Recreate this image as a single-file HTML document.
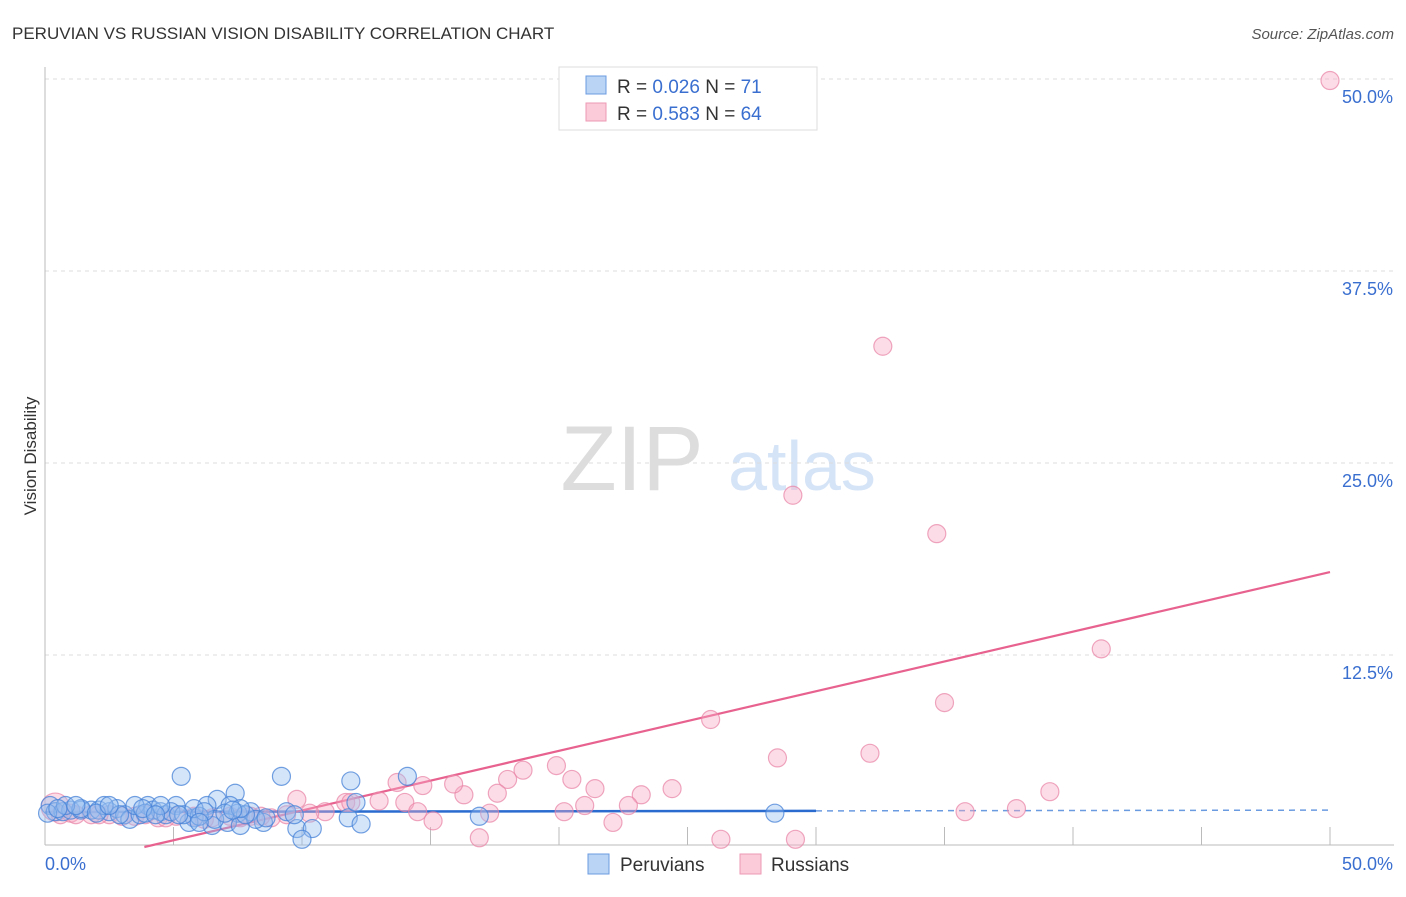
<!DOCTYPE html>
<html><head><meta charset="utf-8"><style>
body{margin:0;background:#fff;font-family:"Liberation Sans",sans-serif;}
svg text{font-family:"Liberation Sans",sans-serif;}
</style></head><body>
<svg width="1406" height="892" viewBox="0 0 1406 892" xmlns="http://www.w3.org/2000/svg">
<text x="12" y="39" font-size="17" fill="#333">PERUVIAN VS RUSSIAN VISION DISABILITY CORRELATION CHART</text>
<text x="1394" y="39" font-size="15" fill="#555" text-anchor="end" font-style="italic">Source: ZipAtlas.com</text>
<text x="36" y="456" font-size="17" fill="#333" transform="rotate(-90 36 456)" text-anchor="middle">Vision Disability</text>
<g><text x="632" y="490" font-size="92" fill="#ddd" font-family="Liberation Serif" text-anchor="middle">ZIP</text><text x="802" y="490" font-size="70" fill="#d6e4f7" text-anchor="middle">atlas</text></g>
<g id="grid"></g><g id="axes"></g><g id="lines"></g><g id="pts"></g>
<g>
<rect x="559" y="67" width="258" height="63" fill="#fff" stroke="#ddd"/>
<rect x="586" y="76" width="20" height="18" fill="#b9d4f5" stroke="#6a9be0"/>
<rect x="586" y="103" width="20" height="18" fill="#fbcbd9" stroke="#ee9ab4"/>
<text x="617" y="93" font-size="19" fill="#333">R = <tspan fill="#3a6fd0">0.026</tspan>   N =  <tspan fill="#3a6fd0"> 71</tspan></text>
<text x="617" y="120" font-size="19" fill="#333">R = <tspan fill="#3a6fd0">0.583</tspan>   N = <tspan fill="#3a6fd0">64</tspan></text>
</g>
<g>
<rect x="588" y="854" width="21" height="20" fill="#b9d4f5" stroke="#6a9be0"/>
<text x="620" y="871" font-size="19" fill="#333">Peruvians</text>
<rect x="740" y="854" width="21" height="20" fill="#fbcbd9" stroke="#ee9ab4"/>
<text x="771" y="871" font-size="19" fill="#333">Russians</text>
</g>
</svg>
<script>
const yTicks=[12.5,25,37.5,50];
const yTickLabels=["12.5%","25.0%","37.5%","50.0%"];
const xTickVals=[0,5,10,15,20,25,30,35,40,45,50];
const russX=[50,32.6,29.1,34.7,41.1,35,25.9,28.5,32.1,19.9,18.6,20.5,21.4,16.3,13.7,14.7,15.9,18,17.6,23.2,24.4,39.1,37.8,35.8,21,22.7,20.2,22.1,14,14.5,15.1,17.3,16.9,26.3,29.2,9.8,11.7,13,11.9,10.9,10.3,9.4,8.8,8,7.2,6.5,5.8,5.1,4.4,3.5,2.5,1.8,1,0.4,0.6,1.2,2.1,3,3.9,4.7,6.2,7.6,8.4];
const russY=[49.9,32.6,22.9,20.4,12.9,9.4,8.3,5.8,6.1,5.3,5,4.4,3.8,3.4,4.2,4,4.1,4.4,3.5,3.4,3.8,3.6,2.5,2.3,2.7,2.7,2.3,1.6,2.9,2.3,1.7,2.2,0.6,0.5,0.5,3.1,2.9,3,2.9,2.3,2.2,2.1,1.9,2,2,1.9,2,2,1.9,2,2.1,2.1,2.2,2.6,2.1,2.1,2.1,2,2.1,1.9,1.8,1.9,2];
const peruX=[5.3,9.2,11.9,14.1,7.4,6.7,6.3,7.2,8,7.5,7.1,7.6,6.5,6.6,5.8,5.6,8.5,9.8,10.4,10,9.4,9.7,11.8,12.3,12.1,16.9,28.4,0.2,0.4,0.7,1,1.4,1.8,2.1,2.5,2.8,3.1,3.3,3.7,4,4.2,4.5,4.7,5.1,4.9,5.4,6,4.5,3.5,2.3,1.4,0.8,0.1,0.5,2.9,3.9,5.8,6.2,8.2,8.6,7.8,7,1.2,2,2.5,3.8,5.2,7.6,6,4.3,7.3];
const peruY=[4.6,4.6,4.3,4.6,3.5,3.1,2.7,2.7,2.3,2.2,1.6,1.4,1.4,1.8,1.9,1.6,1.6,1.2,1.2,0.5,2.3,2.1,1.9,1.5,2.9,2,2.2,2.7,2.3,2.3,2.4,2.4,2.4,2.4,2.3,2.5,2.1,1.8,2.1,2.7,2.4,2.3,2.1,2.7,2.3,2.1,2,2.7,2.7,2.7,2.5,2.7,2.2,2.5,2.1,2.2,2.5,2.3,1.8,1.9,2.1,2.2,2.7,2.2,2.7,2.5,2.1,2.5,1.6,2.1,2.4];
const peruTrend=[2.28,2.4]; // at x=0, x=50
const russTrend=[-1.5,17.9]; // at x=0, x=50
const X0=45,X1=1330,Y0=847,PPY=15.36;
const sx=v=>X0+(v/50)*(X1-X0), sy=v=>Y0-v*PPY;
const NS="http://www.w3.org/2000/svg";
function mk(t,a,p){const e=document.createElementNS(NS,t);for(const k in a)e.setAttribute(k,a[k]);document.getElementById(p).appendChild(e);return e;}
yTicks.forEach((v,i)=>{
 const g=mk('line',{x1:45,x2:1394,y1:sy(v),y2:sy(v),stroke:'#ddd','stroke-dasharray':'4,4'},'grid');
 
 
 const t=mk('text',{x:1393,y:sy(v)+24,'font-size':18,fill:'#3a6fd0','text-anchor':'end'},'grid');
 t.textContent=yTickLabels[i];
 
 
});
const ax=mk('line',{x1:45,x2:1394,y1:845,y2:845,stroke:'#bbb'},'axes');


const ay=mk('line',{x1:45,x2:45,y1:67,y2:845,stroke:'#bbb'},'axes');


xTickVals.forEach(v=>{if(v===0)return;const l=mk('line',{x1:sx(v),x2:sx(v),y1:827,y2:845,stroke:'#bbb'},'axes');
 
 });
[["0.0%",45,'start'],["50.0%",1393,'end']].forEach(a=>{const t=mk('text',{x:a[1],y:870,'font-size':18,fill:'#3a6fd0','text-anchor':a[2]},'axes');t.textContent=a[0];
 
 });
russX.forEach((x,i)=>{const c=mk('circle',{cx:sx(x),cy:sy(russY[i]),r:i===53?14:9,fill:'rgba(247,170,195,0.4)',stroke:'rgba(232,130,165,0.7)','stroke-width':1.2},'pts');
 
 });
peruX.forEach((x,i)=>{const c=mk('circle',{cx:sx(x),cy:sy(peruY[i]),r:9,fill:'rgba(150,190,240,0.4)',stroke:'rgba(70,130,215,0.75)','stroke-width':1.2},'pts');
 
 });
const pt=v=>peruTrend[0]+(peruTrend[1]-peruTrend[0])*v/50;
const l1=mk('line',{x1:sx(0),y1:sy(pt(0)),x2:sx(30),y2:sy(pt(30)),stroke:'#2a6bd0','stroke-width':2.5},'lines');


const l2=mk('line',{x1:sx(30),y1:sy(pt(30)),x2:sx(50),y2:sy(pt(50)),stroke:'#6a9be0','stroke-width':1.5,'stroke-dasharray':'6,5'},'lines');


const rt=v=>russTrend[0]+(russTrend[1]-russTrend[0])*v/50;
const xs=-russTrend[0]/(russTrend[1]-russTrend[0])*50;
const l3=mk('line',{x1:sx(xs),y1:sy(0),x2:sx(50),y2:sy(rt(50)),stroke:'#e8628f','stroke-width':2.2},'lines');


</script>
</body></html>
